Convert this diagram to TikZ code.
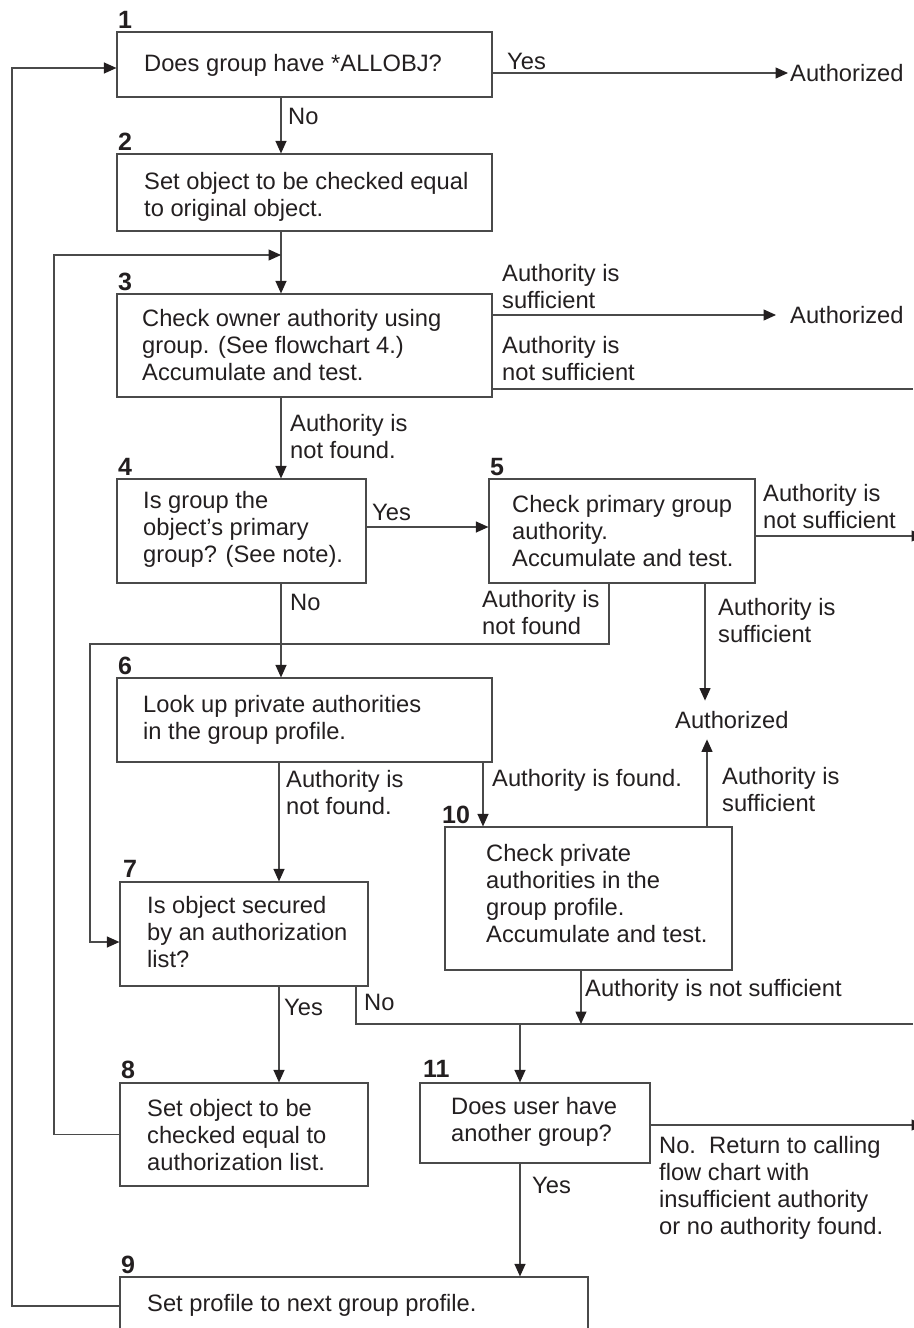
\documentclass[tikz,border=0pt]{standalone}
\usepackage{fontspec}
\setmainfont{Liberation Sans}
\usetikzlibrary{arrows.meta}
\definecolor{ink}{HTML}{231F20}
\definecolor{linec}{HTML}{4A4A4A}
\begin{document}
\begin{tikzpicture}[x=1pt,y=-1pt,
  every node/.style={font=\fontsize{23.7}{27}\selectfont, text=ink, inner sep=0pt},
  box/.style={draw=linec, line width=1.2pt, rectangle},
  txt/.style={anchor=west, align=left},
  num/.style={anchor=base west, font=\fontsize{25}{27}\selectfont\bfseries},
  ln/.style={draw=linec, line width=1.2pt},
  arr/.style={-{Triangle[length=12.5pt,width=11pt,fill=ink,color=ink]}}]
\useasboundingbox (0,0) rectangle (913,1328);

% boxes
\node[box,minimum width=375pt,minimum height=65pt]  (b1)  at (304.5,64.5) {};
\node[box,minimum width=375pt,minimum height=77pt]  (b2)  at (304.5,192.5) {};
\node[box,minimum width=375pt,minimum height=103pt] (b3)  at (304.5,345.5) {};
\node[box,minimum width=249pt,minimum height=104pt] (b4)  at (241.5,531) {};
\node[box,minimum width=266pt,minimum height=104pt] (b5)  at (622,531) {};
\node[box,minimum width=375pt,minimum height=84pt]  (b6)  at (304.5,720) {};
\node[box,minimum width=248pt,minimum height=104pt] (b7)  at (244,934) {};
\node[box,minimum width=287pt,minimum height=143pt] (b10) at (588.5,898.5) {};
\node[box,minimum width=248pt,minimum height=103pt] (b8)  at (244,1134.5) {};
\node[box,minimum width=230pt,minimum height=80pt]  (b11) at (535,1123) {};
\node[box,minimum width=468pt,minimum height=58pt]  (b9)  at (354,1306) {};

% box texts
\node[txt] (t1)  at (144,65)   {Does group have *ALLOBJ?};
\node[txt] (t2)  at (144,197)  {Set object to be checked equal\\to original object.};
\node[txt] (t3)  at (142,345)  {Check owner authority using\\group. (See flowchart 4.)\\Accumulate and test.};
\node[txt] (t4)  at (143,529)  {Is group the\\object’s primary\\group? (See note).};
\node[txt] (t5)  at (512,531)  {Check primary group\\authority.\\Accumulate and test.};
\node[txt] (t6)  at (143,719.5){Look up private authorities\\in the group profile.};
\node[txt] (t7)  at (147,932.5){Is object secured\\by an authorization\\list?};
\node[txt] (t10) at (486,894)  {Check private\\authorities in the\\group profile.\\Accumulate and test.};
\node[txt] (t8)  at (147,1135) {Set object to be\\checked equal to\\authorization list.};
\node[txt] (t11) at (451,1121.5){Does user have\\another group?};
\node[txt] (t9)  at (147,1305) {Set profile to next group profile.};

% step numbers
\node[num] (n1)  at (118,28)   {1};
\node[num] (n2)  at (118,150)  {2};
\node[num] (n3)  at (118,290)  {3};
\node[num] (n4)  at (118,475)  {4};
\node[num] (n5)  at (490,475)  {5};
\node[num] (n6)  at (118,674)  {6};
\node[num] (n7)  at (123,877)  {7};
\node[num] (n10) at (442,823)  {10};
\node[num] (n8)  at (121,1078) {8};
\node[num] (n11) at (423,1077) {11};
\node[num] (n9)  at (121,1273) {9};

% end texts
\node[txt,inner xsep=2pt]  (a1) at (788,73)  {Authorized};
\node[txt,inner xsep=14pt] (a2) at (776,315) {Authorized};
\node[txt,inner ysep=10.5pt] (a3) at (675,720) {Authorized};

% connector labels
\node[txt] (l1)  at (507,61)    {Yes};
\node[txt] (l2)  at (288,116)   {No};
\node[txt] (l3)  at (502,286.5) {Authority is\\sufficient};
\node[txt] (l4)  at (502,358.5) {Authority is\\not sufficient};
\node[txt] (l5)  at (290,436.5) {Authority is\\not found.};
\node[txt] (l6)  at (372,512)   {Yes};
\node[txt] (l7)  at (763,507)   {Authority is\\not sufficient};
\node[txt] (l8)  at (290,602)   {No};
\node[txt] (l9)  at (482,613)   {Authority is\\not found};
\node[txt] (l10) at (718,620.5) {Authority is\\sufficient};
\node[txt] (l11) at (286,793)   {Authority is\\not found.};
\node[txt] (l12) at (492,780)   {Authority is found.};
\node[txt] (l13) at (722,790)   {Authority is\\sufficient};
\node[txt] (l14) at (284,1007)  {Yes};
\node[txt] (l15) at (364,1002)  {No};
\node[txt] (l16) at (585,990)   {Authority is not sufficient};
\node[txt] (l17) at (532,1185)  {Yes};
\node[txt] (l18) at (659,1188)  {No.\ \ Return to calling\\flow chart with\\insufficient authority\\or no authority found.};

% helper coordinates
\coordinate (c281) at (281,0);
\coordinate (c279) at (279,0);
\coordinate (c483) at (483,0);
\coordinate (c609) at (609,0);
\coordinate (c705) at (705,0);
\coordinate (c707) at (707,0);
\coordinate (c356) at (356,0);
\coordinate (c520) at (520,0);
\coordinate (k0) at (12,68);
\coordinate (k1) at (54,255);
\coordinate (j1) at (281,255);
\coordinate (k2) at (90,644);
\coordinate (e1) at (913,389);
\coordinate (e2) at (924,536);
\coordinate (e3) at (913,1024);
\coordinate (j2) at (581,1024);
\coordinate (j3) at (520,1024);
\coordinate (e4) at (924,1125);

% connectors
\draw[ln,arr] (b9.west) -| (k0) -- ([yshift=-3.5pt]b1.west);
\draw[ln,arr] ([yshift=-8.5pt]b1.east) -- (a1.west);
\draw[ln,arr] (b1.south -| c281) -- (b2.north -| c281);
\draw[ln,arr] (b2.south -| c281) -- (b3.north -| c281);
\draw[ln,arr] (b8.west) -| (k1) -- (j1);
\draw[ln,arr] ([yshift=30.5pt]b3.east) -- (a2.west);
\draw[ln] ([yshift=-43.5pt]b3.east) -- (e1);
\draw[ln,arr] (b3.south -| c281) -- (b4.north -| c281);
\draw[ln,arr] ([yshift=4pt]b4.east) -- ([yshift=4pt]b5.west);
\draw[ln,arr] ([yshift=-5pt]b5.east) -- (e2);
\draw[ln,arr] (b4.south -| c281) -- (b6.north -| c281);
\draw[ln,arr] (b5.south -| c609) |- (k2) |- ([yshift=-8pt]b7.west);
\draw[ln,arr] (b5.south -| c705) -- (a3.north -| c705);
\draw[ln,arr] (b10.north -| c707) -- (a3.south -| c707);
\draw[ln,arr] (b6.south -| c279) -- (b7.north -| c279);
\draw[ln,arr] (b6.south -| c483) -- (b10.north -| c483);
\draw[ln,arr] (b7.south -| c279) -- (b8.north -| c279);
\draw[ln] (b7.south -| c356) |- (e3);
\draw[ln,arr] (b10.south -| j2) -- (j2);
\draw[ln,arr] (j3) -- (b11.north -| j3);
\draw[ln,arr] ([yshift=-2pt]b11.east) -- (e4);
\draw[ln,arr] (b11.south -| c520) -- (b9.north -| c520);
\end{tikzpicture}
\end{document}
